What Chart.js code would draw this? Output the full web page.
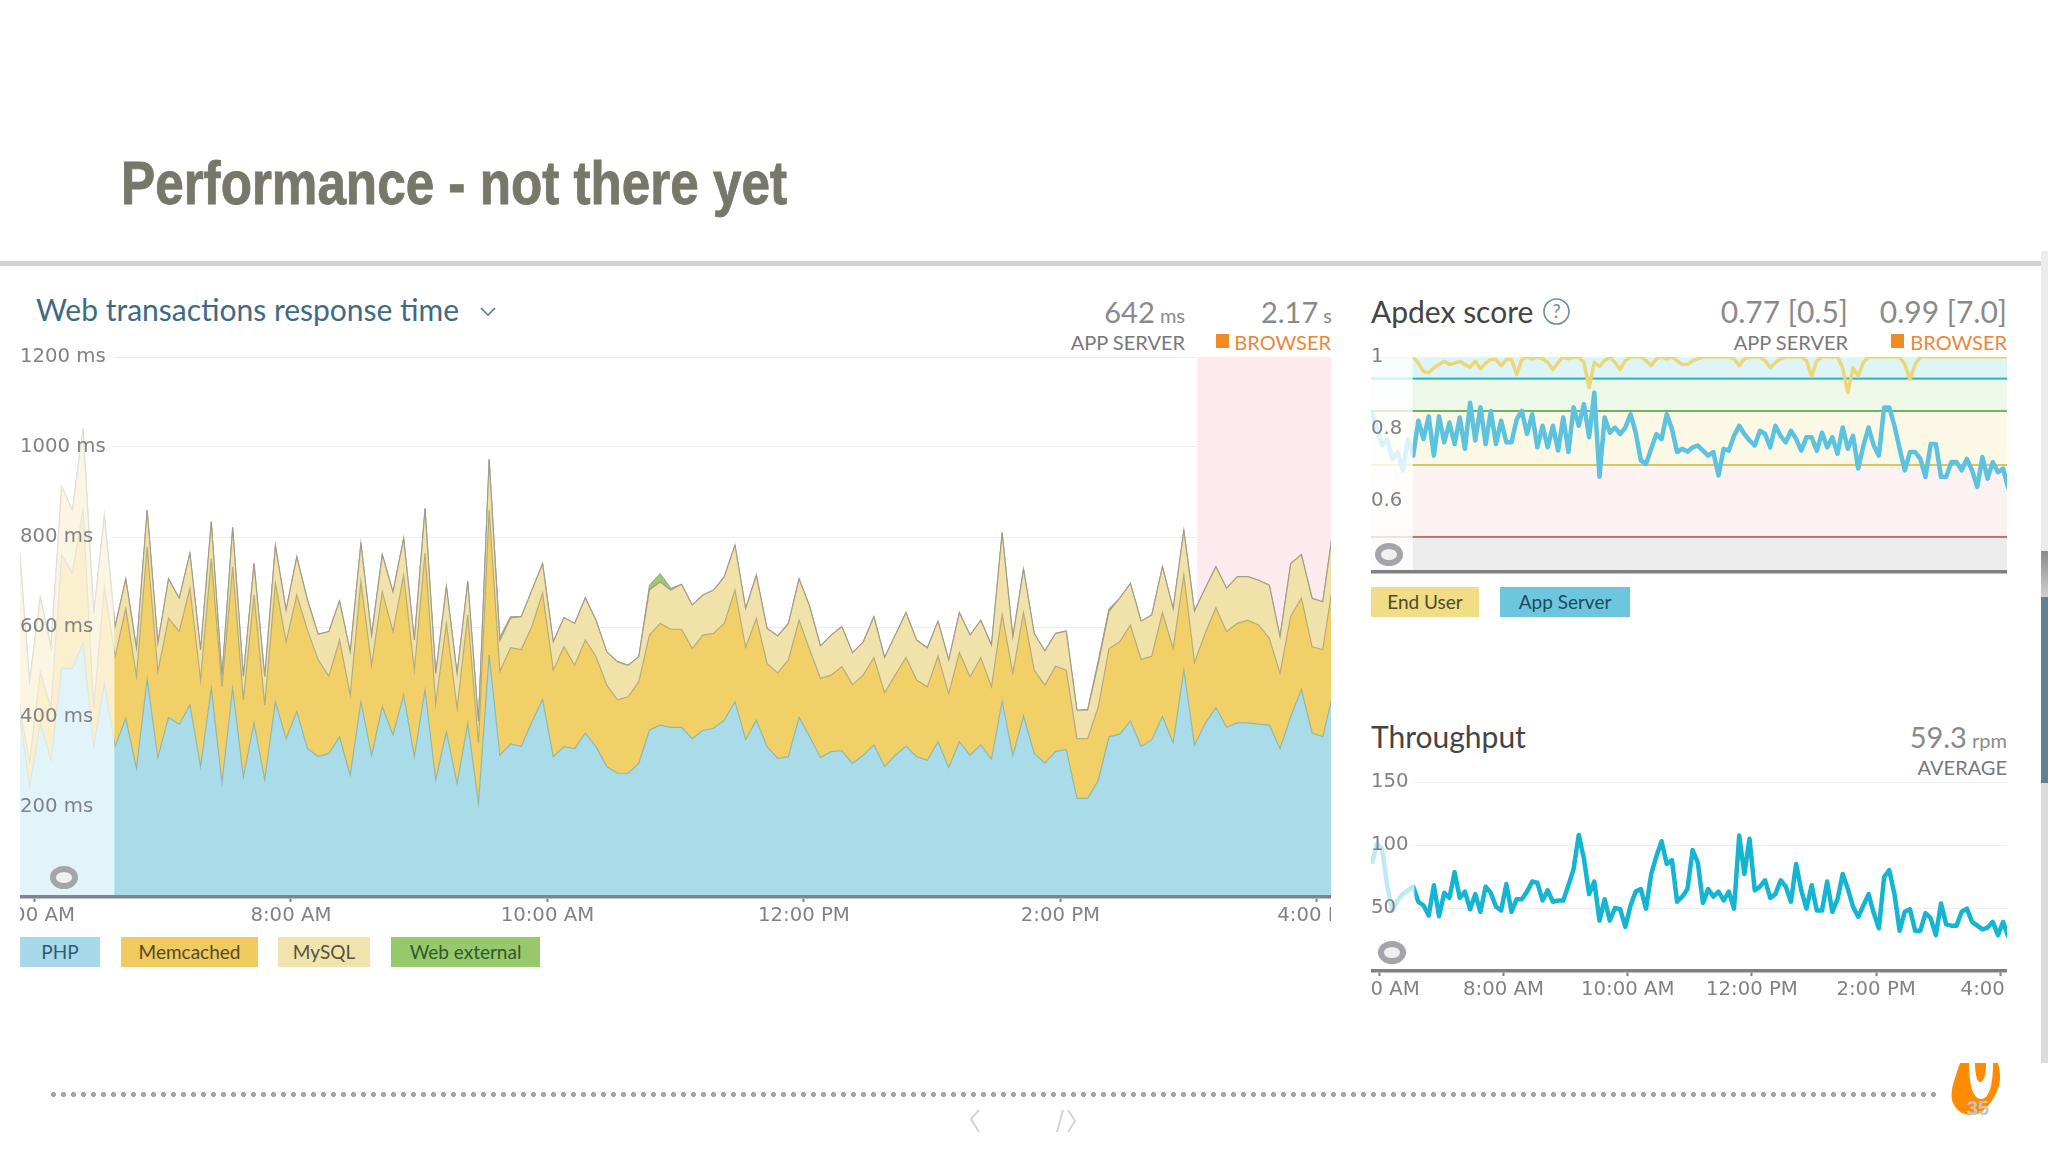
<!DOCTYPE html>
<html><head><meta charset="utf-8">
<script src="https://cdn.jsdelivr.net/npm/chart.js@4"></script>
<style>
html,body{margin:0;padding:0;background:#fff;width:2048px;height:1152px;overflow:hidden;font-family:Lato,sans-serif}
.t{position:absolute;white-space:nowrap;line-height:1}
canvas{position:absolute}
.pill{position:absolute;height:30px;line-height:30px;text-align:center;font-size:19px;color:#3b4a4a}
.eye{position:absolute;box-sizing:border-box;border-radius:50%;border:6px solid #a3a5aa;background:#f0f0f0}
.sq{position:absolute;width:13px;height:14px;background:#ee8b26}
.scroll{position:absolute;left:2041px;width:7px}
</style></head><body>
<div class="t" id="title" style="left:121px;top:148px;font:bold 61px 'Liberation Sans';color:#78786a;transform-origin:0 0;-webkit-text-stroke:0.9px #78786a">Performance - not there yet</div>
<div style="position:absolute;left:0;top:261px;width:2041px;height:5px;background:#d2d2d4"></div>
<div class="scroll" style="top:251px;height:300px;background:#ececec"></div>
<div class="scroll" style="top:551px;height:46px;background:linear-gradient(#8a8a8a,#cfcfcf)"></div>
<div class="scroll" style="top:597px;height:186px;background:#5f8294"></div>
<div class="scroll" style="top:783px;height:280px;background:#dcdcdc"></div>

<div class="t" style="left:36px;top:294px;font-size:30px;color:#3f6a85" id="mainTitle">Web transactions response time</div>
<svg style="position:absolute;left:479px;top:306px" width="18" height="12"><path d="M2 2 L9 9 L16 2" fill="none" stroke="#5d7f94" stroke-width="1.6"/></svg>
<div class="t" style="right:863px;top:297px;font-size:29px;color:#8a8a8a">642<span style="font-size:20px"> ms</span></div>
<div class="t" style="right:863px;top:332px;font-size:20px;color:#77787a">APP SERVER</div>
<div class="t" style="right:716px;top:297px;font-size:29px;color:#8a8a8a">2.17<span style="font-size:20px"> s</span></div>
<div class="sq" style="left:1216px;top:334px"></div>
<div class="t" style="right:717px;top:332px;font-size:20px;color:#e8873a">BROWSER</div>

<canvas id="mainChart" width="1311" height="582" style="left:20px;top:345px"></canvas>
<div id="mainLegend"></div>

<div class="t" style="left:1371px;top:296px;font-size:30px;color:#444">Apdex score</div>
<svg style="position:absolute;left:1542px;top:297px" width="29" height="29"><circle cx="14.5" cy="14.5" r="12.5" fill="none" stroke="#6d8ea5" stroke-width="1.6"/><text x="14.5" y="21" font-family="Lato" font-size="19" text-anchor="middle" fill="#6d8ea5">?</text></svg>
<div class="t" style="right:200px;top:296px;font-size:30px;color:#8a8a8a">0.77 [0.5]</div>
<div class="t" style="right:200px;top:332px;font-size:20px;color:#77787a">APP SERVER</div>
<div class="t" style="right:41px;top:296px;font-size:30px;color:#8a8a8a">0.99 [7.0]</div>
<div class="sq" style="left:1891px;top:334px"></div>
<div class="t" style="right:41px;top:332px;font-size:20px;color:#e8873a">BROWSER</div>
<canvas id="apdexChart" width="636" height="233" style="left:1371px;top:345px"></canvas>
<div class="pill" style="left:1371px;top:587px;width:108px;background:#f0dd85;color:#4f4a30">End User</div>
<div class="pill" style="left:1500px;top:587px;width:130px;background:#6cc7de;color:#22485a">App Server</div>

<div class="t" style="left:1371px;top:721px;font-size:30px;color:#444">Throughput</div>
<div class="t" style="right:41px;top:722px;font-size:29px;color:#8a8a8a">59.3<span style="font-size:20px"> rpm</span></div>
<div class="t" style="right:41px;top:757px;font-size:20px;color:#77787a">AVERAGE</div>
<canvas id="throughputChart" width="636" height="231" style="left:1371px;top:770px"></canvas>

<div class="eye" style="left:50px;top:866px;width:28px;height:23px"></div>
<div class="eye" style="left:1375px;top:543px;width:28px;height:23px"></div>
<div class="eye" style="left:1378px;top:941px;width:28px;height:23px"></div>

<div style="position:absolute;left:51px;top:1092px;width:1890px;height:5px;background:radial-gradient(circle 2.4px at 2.5px 2.5px,#a4a4a4 95%,transparent) 0 0/10px 5px repeat-x"></div>
<svg style="position:absolute;left:0;top:1040px" width="2048" height="112">
<path d="M979 70 L971 79 L979 92 M1057 92 L1063 70 M1068 70 L1075 81 L1068 92" fill="none" stroke="#d4d4d4" stroke-width="2"/>
<path d="M1960 23 C1955 38 1950 50 1952 60 C1955 70 1962 75 1972 75 C1982 75 1994 62 1999 46 C2001 38 2000 30 1998 23 Z" fill="#ff8c00"/>
<path d="M1969 23 C1969 42 1972 59 1981 59 C1990 59 1993 42 1993 23 Z" fill="#fff"/>
<path d="M1975 23 C1975 34 1977 42 1980 42 C1984 42 1986 34 1986 23 Z" fill="#ff8c00"/>
<text x="1978" y="75" font-family="Liberation Sans" font-weight="bold" font-size="20" text-anchor="middle" fill="#c6c6c6">35</text>
</svg>

<script>
// ----- shared time axis (minutes since midnight) -----
const tickMinutes = [360, 480, 600, 720, 840, 960];
const tickLabels = ['6:00 AM', '8:00 AM', '10:00 AM', '12:00 PM', '2:00 PM', '4:00 PM'];
const firstSampleMinute = 352.75;
const sampleStepMinutes = 5;

// ----- Web transactions response time: top edge of each stacked band, ms -----
const legendNames = ['PHP', 'Memcached', 'MySQL', 'Web external'];
const phpTop = [
 420,245,386,304,508,508,564,335,475,335,
 397,286,484,310,399,384,427,290,464,254,
 464,267,387,261,434,352,412,330,312,319,
 356,271,434,315,423,360,449,312,460,260,
 367,252,386,208,538,315,340,335,389,439,
 312,334,330,364,334,290,275,275,297,371,
 382,377,377,352,370,375,393,434,350,393,
 334,308,312,399,356,310,323,325,297,315,
 338,290,315,335,312,304,345,288,345,315,
 338,306,435,314,402,319,298,323,328,219,
 219,260,356,362,391,335,349,401,343,504,
 338,386,421,377,387,387,384,382,330,401,
 461,365,356,456];
const memcachedTop = [
 430,300,500,420,760,720,860,420,690,534,
 641,490,778,501,619,590,686,482,752,467,
 734,438,671,427,697,567,671,593,527,491,
 571,449,701,515,678,590,715,504,764,430,
 608,419,627,341,860,501,554,550,601,675,
 504,556,515,571,534,471,438,445,478,582,
 608,595,595,552,582,586,608,682,555,619,
 519,498,527,615,549,486,493,512,472,493,
 532,454,493,532,482,467,535,452,543,489,
 532,467,628,497,632,504,471,513,504,352,
 352,423,552,567,604,528,535,632,552,715,
 521,586,643,590,608,615,604,575,497,624,
 664,556,550,704];
const mysqlTop = [
 786,480,667,556,912,860,1041,630,849,601,
 707,553,860,564,707,664,764,549,834,490,
 821,490,741,490,781,638,756,660,584,590,
 658,545,786,582,761,678,797,571,863,497,
 690,497,701,390,972,570,620,623,682,741,
 567,621,608,665,615,545,523,515,534,683,
 700,682,695,649,671,682,712,782,641,715,
 597,580,608,707,645,558,582,601,543,567,
 623,532,582,632,571,554,613,527,632,582,
 615,560,810,578,729,586,547,586,591,415,
 415,520,635,664,697,613,627,734,641,815,
 636,686,734,686,712,712,704,693,578,741,
 761,664,656,823];
const webExternalTop = [
 786,480,667,556,912,860,1041,630,849,601,
 707,553,860,564,707,664,764,549,834,490,
 821,490,741,490,781,638,756,660,584,590,
 658,545,786,582,761,678,797,571,863,497,
 690,497,701,390,972,578,623,623,682,741,
 567,621,608,665,615,545,523,515,534,693,
 719,686,695,649,671,682,712,782,641,715,
 597,580,608,707,645,558,582,601,543,567,
 623,532,582,632,571,554,613,527,632,582,
 615,560,810,578,729,586,547,586,591,415,
 417,527,641,664,697,613,627,734,641,815,
 636,686,734,686,712,712,704,693,578,741,
 761,664,656,823];

// ----- Apdex -----
const apdexThresholds = [0.94, 0.85, 0.7, 0.5];
const endUserApdex = [
 1,1,1,1,1,1,1,1,1,.983,
 .96,.956,.97,.979,.988,.979,.983,.988,.979,.972,
 .988,.967,.983,.993,.993,.976,.993,.993,.951,.993,
 1,.995,1,.995,.985,.965,.985,1,.995,1,
 1,.985,.915,.985,.974,.99,1,.985,.965,.99,
 1,1,1,.99,.976,.995,1,.995,1,.99,
 .979,.979,.99,.995,1,1,1,1,1,1,
 .995,.976,.995,1,1,1,.99,.97,.985,.995,
 1,1,1,1,.99,.947,.99,1,1,1,
 1,.97,.901,.97,.947,.985,1,1,1,1,
 1,1,1,.98,.938,.98,1,1,1,1,
 1,1,1,1,1,1,1,1,1,1,
 1,1,1,1];
const appServerApdex = [
 .846,.8,.754,.77,.717,.735,.685,.772,.726,.823,
 .772,.835,.726,.835,.763,.818,.758,.832,.745,.873,
 .768,.86,.758,.85,.758,.823,.763,.763,.827,.85,
 .786,.841,.749,.809,.749,.809,.74,.832,.736,.86,
 .809,.869,.777,.901,.667,.832,.79,.804,.786,.804,
 .841,.79,.713,.703,.745,.786,.772,.841,.8,.736,
 .745,.737,.749,.754,.74,.726,.736,.671,.745,.74,
 .781,.809,.786,.768,.754,.795,.786,.749,.809,.781,
 .763,.795,.772,.74,.777,.777,.74,.79,.749,.777,
 .731,.804,.745,.781,.69,.754,.804,.754,.726,.86,
 .86,.809,.745,.685,.736,.736,.717,.667,.758,.758,
 .667,.667,.708,.708,.685,.717,.685,.639,.722,.662,
 .708,.68,.69,.635];

// ----- Throughput, rpm -----
const throughputRpm = [
 85,101,97,67,48,56,61,64,67,55,
 52,44,68,43.5,62,58,78.5,58,63,49,
 61,47,67,62,51,48,69,47,57,57,
 63,71,70,56,64,55,56,56,68,81,
 108,89,61,71,40,57,40,50,49,35,
 52,63,65,49.5,77,91,103,85,88,55,
 59,65,96,86,54,65,59,63,56,63,
 49.5,107.5,77,105,64,67,72,58,61,72,
 67,55,85,64,49.5,68,48,48,71,47,
 57,77,65,51,43,52,61,46,34,74.5,
 80,61,32,47,49,32,32,46,42,28.5,
 53.5,37,36,36,47,49.5,39,36,33,34.5,
 39,28.5,39,27];

const FONT = 'DejaVu Sans';
const FONT_SIZE = 19.7;
const LABEL_COLOR = '#808285';
const toXY = arr => arr.map((y, i) => ({x: firstSampleMinute + i * sampleStepMinutes, y}));
const noPad = s => { s.paddingLeft = s.paddingRight = s.paddingTop = s.paddingBottom = 0; };

function xAxis(min, max, showLabels, color, width) {
  return {
    type: 'linear', min, max,
    afterBuildTicks: s => { s.ticks = tickMinutes.map(value => ({value})); },
    afterFit: s => { noPad(s); s.height = showLabels ? 30 : 6; },
    grid: {display: true, drawOnChartArea: false, drawTicks: showLabels, tickLength: 5, tickColor: color, tickWidth: 2},
    border: {display: true, color, width, z: 1},
    ticks: {display: showLabels, autoSkip: false, maxRotation: 0, minRotation: 0, padding: 2, color: LABEL_COLOR,
      font: {family: FONT, size: FONT_SIZE},
      callback: v => tickLabels[tickMinutes.indexOf(v)]}
  };
}
function yAxis(min, max, values, fmt, showGrid) {
  return {
    type: 'linear', min, max,
    afterBuildTicks: s => { s.ticks = values.map(value => ({value})); },
    afterFit: s => { noPad(s); s.width = 0; },
    grid: {display: showGrid, color: '#eeeef2', lineWidth: 1, drawTicks: false},
    border: {display: false},
    ticks: {mirror: true, padding: 0, z: 1, color: LABEL_COLOR, font: {family: FONT, size: FONT_SIZE}, callback: fmt}
  };
}
const fadePlugin = (untilMinute, alpha) => ({
  id: 'fade',
  afterDatasetsDraw(c) {
    const a = c.chartArea, x = c.scales.x.getPixelForValue(untilMinute);
    c.ctx.save(); c.ctx.fillStyle = `rgba(255,255,255,${alpha})`;
    c.ctx.fillRect(a.left, a.top - 4, x - a.left, a.bottom - a.top + 4); c.ctx.restore();
  }
});
const baseOptions = (x, y, paddingTop) => ({
  responsive: false, animation: false, devicePixelRatio: 1,
  layout: {padding: {top: paddingTop, left: 0, right: 0, bottom: 0}},
  plugins: {legend: {display: false}, tooltip: {enabled: false}},
  elements: {point: {radius: 0}, line: {tension: 0}},
  scales: {x, y}
});

// Main stacked area
const browserBandStart = 904, mainFadeEnd = 397.4;
new Chart(document.getElementById('mainChart'), {
  type: 'line',
  data: {datasets: [
    {label: legendNames[0], data: toXY(phpTop), fill: 'origin', backgroundColor: '#a9dbe9', borderColor: '#93b7a6', borderWidth: 1.2},
    {label: legendNames[1], data: toXY(memcachedTop), fill: '-1', backgroundColor: '#f2d068', borderColor: '#b5ab7e', borderWidth: 1.2},
    {label: legendNames[2], data: toXY(mysqlTop), fill: '-1', backgroundColor: '#f0e2a9', borderColor: '#a39d88', borderWidth: 1.2},
    {label: legendNames[3], data: toXY(webExternalTop), fill: '-1', backgroundColor: '#9ccb6e', borderColor: '#a39d88', borderWidth: 1}
  ]},
  options: baseOptions(
    xAxis(353.26, 966.6, true, '#7f8294', 3.5),
    yAxis(0, 1200, [200,400,600,800,1000,1200], v => v + ' ms', true), 12),
  plugins: [{
    id: 'browserBand',
    beforeDatasetsDraw(c) {
      const a = c.chartArea, x = c.scales.x.getPixelForValue(browserBandStart);
      c.ctx.save(); c.ctx.fillStyle = '#fdeaee'; c.ctx.fillRect(x, a.top, a.right - x, a.bottom - a.top); c.ctx.restore();
    }
  }, fadePlugin(mainFadeEnd, 0.68)]
});

// Legend pills
const legendColors = ['#a8d9ea', '#f0c95f', '#f1e3ae', '#97c96c'];
const legendTextColors = ['#2f5b75', '#57482a', '#5b5238', '#2f5a2a'];
const legendBoxes = [[20, 80], [121, 137], [278, 92], [391, 149]];
legendNames.forEach((n, i) => {
  const d = document.createElement('div');
  d.className = 'pill'; d.textContent = n;
  d.style.cssText = `left:${legendBoxes[i][0]}px;top:937px;width:${legendBoxes[i][1]}px;background:${legendColors[i]};color:${legendTextColors[i]}`;
  document.getElementById('mainLegend').appendChild(d);
});

// Apdex
const bandColors = ['#def5f8', '#eef8e8', '#fbf9e6', '#fdf2f2', '#ececec'];
const lineColors = ['#2ab5b5', '#6eb364', '#d8c65c', '#b87474'];
new Chart(document.getElementById('apdexChart'), {
  type: 'line',
  data: {datasets: [
    {label: 'App Server', data: toXY(appServerApdex), borderColor: '#5cc2de', borderWidth: 4.5, fill: false, borderJoinStyle: 'round', order: 1},
    {label: 'End User', data: toXY(endUserApdex), borderColor: '#ecd778', borderWidth: 3.5, fill: false, borderJoinStyle: 'round', order: 2}
  ]},
  options: baseOptions(
    xAxis(352, 966.5, false, '#808080', 3.5),
    yAxis(0.4026, 1, [1, 0.8, 0.6], v => String(v), false), 12),
  plugins: [{
    id: 'apdexBands',
    beforeDatasetsDraw(c) {
      const a = c.chartArea, y = c.scales.y, ctx = c.ctx;
      const edges = [1, ...apdexThresholds, 0.4026].map(v => y.getPixelForValue(v));
      ctx.save();
      bandColors.forEach((col, i) => { ctx.fillStyle = col; ctx.fillRect(a.left, edges[i], a.right - a.left, edges[i + 1] - edges[i]); });
      lineColors.forEach((col, i) => { ctx.fillStyle = col; ctx.fillRect(a.left, edges[i + 1] - 1, a.right - a.left, 2); });
      ctx.restore();
    }
  }, fadePlugin(392.3, 0.78)]
});

// Throughput
new Chart(document.getElementById('throughputChart'), {
  type: 'line',
  data: {datasets: [{label: 'Throughput', data: toXY(throughputRpm), borderColor: '#13b5d3', borderWidth: 4.5, fill: false, borderJoinStyle: 'round'}]},
  options: baseOptions(
    xAxis(352, 966.5, true, '#808080', 3.5),
    yAxis(0, 150, [50, 100, 150], v => String(v), true), 12),
  plugins: [fadePlugin(394, 0.72)]
});

// Fit the condensed slide title to its measured width
const tEl = document.getElementById('title');
tEl.style.transform = `scaleX(${666 / tEl.getBoundingClientRect().width})`;
</script>
</body></html>
